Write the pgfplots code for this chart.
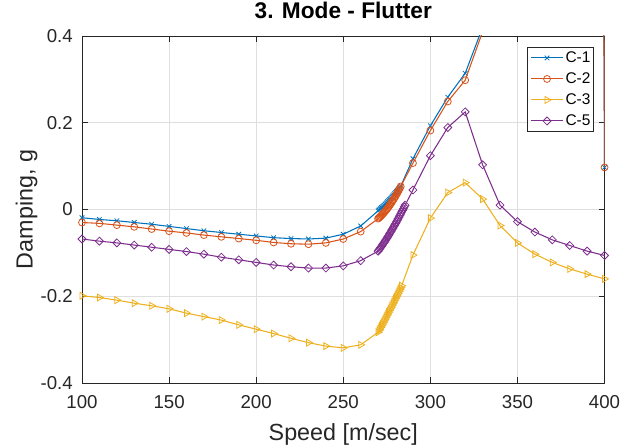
\documentclass[border=0pt]{standalone}
\usepackage{fontspec}
\setmainfont{Liberation Sans}
\usepackage{pgfplots}
\usepackage{pgfplotstable}
\pgfplotsset{compat=1.18}

\definecolor{c1}{HTML}{0072BD}
\definecolor{c2}{HTML}{D95319}
\definecolor{c3}{HTML}{EDB120}
\definecolor{c5}{HTML}{7E2F8E}
\definecolor{axcol}{HTML}{262626}
\definecolor{gridcol}{HTML}{DFDFDF}

% C-1
\pgfplotstableread{
x y
100 -0.019
110 -0.023
120 -0.026
130 -0.030
140 -0.034
150 -0.039
160 -0.044
170 -0.049
180 -0.053
190 -0.057
200 -0.061
210 -0.065
220 -0.067
230 -0.068
240 -0.066
250 -0.057
260 -0.038
270 -0.0030
270.5 -0.0012
271 0.0006
271.5 0.0024
272 0.0043
272.5 0.0062
273 0.0081
273.5 0.0101
274 0.0121
274.5 0.0141
275 0.0162
275.5 0.0183
276 0.0204
276.5 0.0226
277 0.0248
277.5 0.0271
278 0.0294
278.5 0.0317
279 0.0340
279.5 0.0364
280 0.0388
280.5 0.0412
281 0.0437
281.5 0.0462
282 0.0488
282.5 0.0514
283 0.0540
290 0.117
300 0.193
310 0.259
320 0.314
330 0.420
340 0.55
350 0.70
360 0.88
370 1.10
380 1.40
390 9.0
400 0.097
}\tabA

% C-2
\pgfplotstableread{
x y
100 -0.030
110 -0.032
120 -0.036
130 -0.040
140 -0.045
150 -0.050
160 -0.054
170 -0.059
180 -0.063
190 -0.067
200 -0.071
210 -0.076
220 -0.079
230 -0.080
240 -0.077
250 -0.068
260 -0.051
270 -0.0210
270.5 -0.0192
271 -0.0173
271.5 -0.0154
272 -0.0133
272.5 -0.0112
273 -0.0090
273.5 -0.0067
274 -0.0043
274.5 -0.0018
275 0.0007
275.5 0.0034
276 0.0061
276.5 0.0089
277 0.0118
277.5 0.0148
278 0.0178
278.5 0.0210
279 0.0242
279.5 0.0275
280 0.0309
280.5 0.0344
281 0.0379
281.5 0.0416
282 0.0453
282.5 0.0492
283 0.0531
290 0.107
300 0.182
310 0.249
320 0.298
330 0.410
340 0.53
350 0.68
360 0.86
370 1.08
380 1.38
390 9.0
400 0.097
}\tabB

% C-3
\pgfplotstableread{
x y
100 -0.199
110 -0.203
120 -0.209
130 -0.216
140 -0.222
150 -0.229
160 -0.239
170 -0.247
180 -0.255
190 -0.266
200 -0.276
210 -0.286
220 -0.297
230 -0.307
240 -0.315
250 -0.319
260 -0.312
270 -0.2830
270.5 -0.2792
271 -0.2755
271.5 -0.2717
272 -0.2679
272.5 -0.2641
273 -0.2602
273.5 -0.2564
274 -0.2525
274.5 -0.2486
275 -0.2448
275.5 -0.2408
276 -0.2369
276.5 -0.2330
277 -0.2290
277.5 -0.2251
278 -0.2211
278.5 -0.2171
279 -0.2131
279.5 -0.2090
280 -0.2050
280.5 -0.2009
281 -0.1969
281.5 -0.1928
282 -0.1887
282.5 -0.1845
283 -0.1804
283.5 -0.1758
290 -0.105
300 -0.020
310 0.039
320 0.062
330 0.024
340 -0.037
350 -0.077
360 -0.103
370 -0.122
380 -0.137
390 -0.149
400 -0.160
}\tabC

% C-5
\pgfplotstableread{
x y
100 -0.068
110 -0.073
120 -0.077
130 -0.082
140 -0.087
150 -0.092
160 -0.097
170 -0.103
180 -0.110
190 -0.116
200 -0.122
210 -0.128
220 -0.132
230 -0.135
240 -0.135
250 -0.130
260 -0.118
270 -0.0960
270.5 -0.0932
271 -0.0904
271.5 -0.0876
272 -0.0847
272.5 -0.0817
273 -0.0787
273.5 -0.0757
274 -0.0726
274.5 -0.0695
275 -0.0663
275.5 -0.0631
276 -0.0599
276.5 -0.0566
277 -0.0533
277.5 -0.0499
278 -0.0465
278.5 -0.0430
279 -0.0395
279.5 -0.0360
280 -0.0324
280.5 -0.0287
281 -0.0250
281.5 -0.0213
282 -0.0176
282.5 -0.0138
283 -0.0099
283.5 -0.0060
284 -0.0021
284.5 0.0019
285 0.0059
285.5 0.0100
290 0.045
300 0.124
310 0.189
320 0.225
330 0.103
340 0.010
350 -0.028
360 -0.052
370 -0.070
380 -0.083
390 -0.096
400 -0.106
}\tabE

\pgfplotsset{
  s1/.style={color=c1, line width=0.8pt, mark=x, mark size=2.4pt, mark options={line width=0.6pt}},
  s2/.style={color=c2, line width=0.8pt, mark=o, mark size=2.6pt, mark options={line width=0.6pt}},
  s3/.style={color=c3, line width=0.8pt, mark=triangle, mark size=3pt, mark options={line width=0.6pt, rotate=-90}},
  s5/.style={color=c5, line width=0.8pt, mark=square, mark size=2.1pt, mark options={line width=0.6pt, rotate=45}},
  mk/.style={only marks, forget plot, restrict y to domain=-0.4:0.4},
}

\begin{document}
\begin{tikzpicture}
\begin{axis}[
  scale only axis,
  width=391.9pt, height=260.25pt,
  xmin=100, xmax=400, ymin=-0.4, ymax=0.4,
  xtick={100,150,200,250,300,350,400},
  xticklabels={100,150,200,250,300,350,400},
  ytick={-0.4,-0.2,0,0.2,0.4},
  yticklabels={-0.4,-0.2,0,0.2,0.4},
  grid=major,
  major grid style={gridcol, line width=0.6pt},
  axis line style={axcol, line width=0.6pt},
  tick style={axcol, line width=0.6pt},
  major tick length=4.2pt,
  tick align=inside,
  ticklabel style={font=\fontsize{14}{16}\selectfont, text=axcol, inner sep=0pt},
  xticklabel style={anchor=base, yshift=-19.5pt},
  yticklabel style={anchor=east, xshift=-6.75pt},
  title={3. Mode - Flutter},
  title style={font=\fontsize{17}{20}\selectfont\bfseries, text=black, at={(axis description cs:0.5,1.0288)}, anchor=base, inner sep=0pt},
  xlabel={Speed [m/sec]},
  xlabel style={font=\fontsize{17.5}{20}\selectfont, text=axcol, at={(axis description cs:0.5,-0.1643)}, anchor=base, inner sep=0pt},
  ylabel={Damping, g},
  ylabel style={font=\fontsize{17.5}{20}\selectfont, text=axcol, at={(axis description cs:-0.0944,0.5)}, anchor=base, inner sep=0pt},
  clip mode=individual,
  legend style={at={(axis description cs:0.979,0.968)}, anchor=north east,
    draw=axcol, line width=0.6pt, fill=white,
    font=\fontsize{11.6}{13}\selectfont, text=black,
    inner xsep=2pt, inner ysep=2.6pt, row sep=5.25pt,
    nodes={inner sep=0pt, text height=8.5pt, text depth=2pt},
    /tikz/every odd column/.style={column sep=1.5pt}},
  legend cell align=left,
  legend image code/.code={\draw[mark repeat=2, mark phase=2] plot coordinates {(0pt,0pt) (12pt,0pt) (24pt,0pt)};},
]
\addplot[s1, no markers, forget plot] table {\tabA};
\addplot[s1, mk] table {\tabA};
\addplot[s2, no markers, forget plot] table {\tabB};
\addplot[s2, mk] table {\tabB};
\addplot[s3, no markers, forget plot] table {\tabC};
\addplot[s3, mk] table {\tabC};
\addplot[s5, no markers, forget plot] table {\tabE};
\addplot[s5, mk] table {\tabE};
\addlegendimage{s1}
\addlegendentry{C-1}
\addlegendimage{s2}
\addlegendentry{C-2}
\addlegendimage{s3}
\addlegendentry{C-3}
\addlegendimage{s5}
\addlegendentry{C-5}
\end{axis}
\pgfresetboundingbox
\useasboundingbox ([shift={(-61.5pt,-47.25pt)}]current axis.south west) rectangle ([shift={(11.6pt,27pt)}]current axis.north east);
\end{tikzpicture}
\end{document}
